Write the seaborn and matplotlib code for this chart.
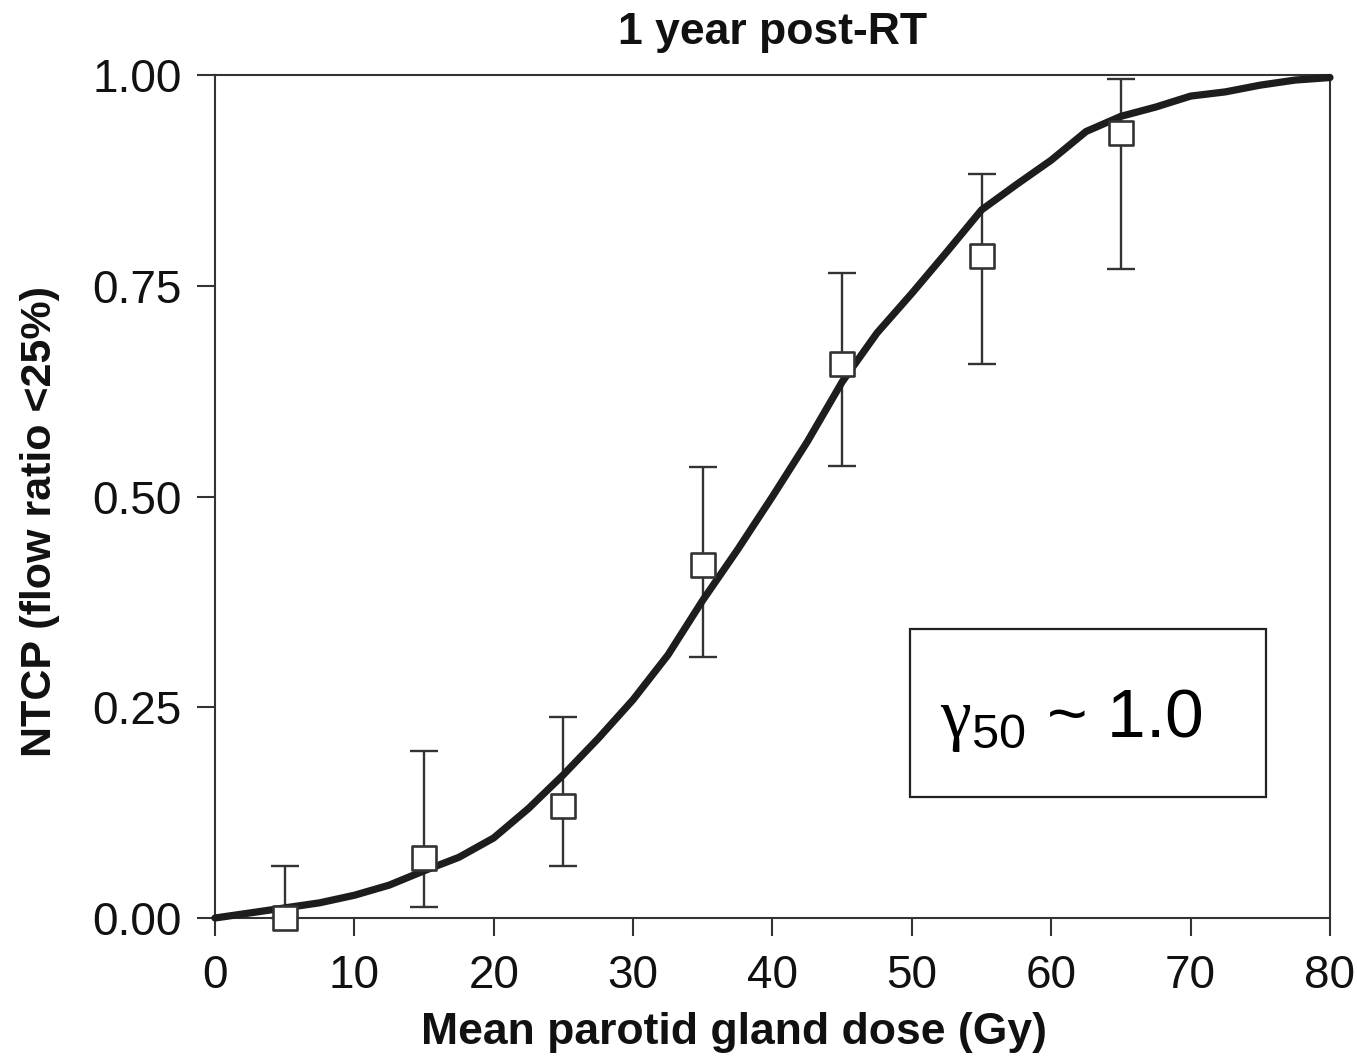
import matplotlib
import matplotlib.pyplot as plt
import pandas as pd
import seaborn as sns
from matplotlib.patches import Rectangle

matplotlib.use('Agg')

# Fitted NTCP curve
curve_dose = [0, 2.5, 5, 7.5, 10, 12.5, 15, 17.5, 20, 22.5, 25, 27.5, 30, 32.5, 35, 37.5, 40,
              42.5, 45, 47.5, 50, 52.5, 55, 57.5, 60, 62.5, 65, 67.5, 70, 72.5, 75, 77.5, 80]
curve_ntcp = [0.000, 0.006, 0.012, 0.018, 0.027, 0.039, 0.056, 0.072, 0.095, 0.130, 0.170,
              0.213, 0.259, 0.312, 0.377, 0.437, 0.500, 0.565, 0.636, 0.694, 0.741, 0.790,
              0.840, 0.870, 0.899, 0.933, 0.951, 0.962, 0.975, 0.980, 0.988, 0.994, 0.997]

# Observed complication rates with confidence intervals
obs_dose = [5, 15, 25, 35, 45, 55, 65]
obs_ntcp = [0.000, 0.071, 0.133, 0.419, 0.657, 0.785, 0.931]
obs_upper = [0.062, 0.198, 0.238, 0.535, 0.765, 0.883, 0.995]
obs_lower = [0.000, 0.013, 0.062, 0.310, 0.536, 0.657, 0.770]

x_ticks = [0, 10, 20, 30, 40, 50, 60, 70, 80]
y_ticks = [0.00, 0.25, 0.50, 0.75, 1.00]


def make_plot(output_file):
    sns.set_style('ticks')
    plt.rcParams['font.family'] = ['Liberation Sans', 'DejaVu Sans']
    plt.rcParams['mathtext.fontset'] = 'custom'
    plt.rcParams['mathtext.rm'] = 'Liberation Serif'
    plt.rcParams['mathtext.sf'] = 'Liberation Sans'

    curve = pd.DataFrame({'dose': curve_dose, 'ntcp': curve_ntcp})
    obs = pd.DataFrame({'dose': obs_dose, 'ntcp': obs_ntcp,
                        'upper': obs_upper, 'lower': obs_lower})

    fig = plt.figure(figsize=(13.57, 10.64), dpi=100)
    ax = fig.add_axes([0.1584, 0.1372, 0.8217, 0.7923])

    edge = '#333333'

    # Error bars
    ax.errorbar(obs['dose'], obs['ntcp'],
                yerr=[obs['ntcp'] - obs['lower'], obs['upper'] - obs['ntcp']],
                fmt='none', ecolor=edge, elinewidth=1.7, capsize=10, capthick=1.7,
                zorder=2, clip_on=False)

    # Fitted curve
    sns.lineplot(data=curve, x='dose', y='ntcp', ax=ax, color='#1f1c1d',
                 linewidth=5.2, zorder=3, clip_on=False)

    # Observed points
    sns.scatterplot(data=obs, x='dose', y='ntcp', ax=ax, marker='s', s=300,
                    facecolor='white', edgecolor=edge, linewidth=1.9,
                    zorder=4, clip_on=False)

    ax.set_xlim(0, 80)
    ax.set_ylim(0, 1)
    ax.set_xticks(x_ticks)
    ax.set_yticks(y_ticks)
    ax.set_yticklabels([f'{v:.2f}' for v in y_ticks])

    for side in ['left', 'bottom', 'top', 'right']:
        ax.spines[side].set_visible(True)
        ax.spines[side].set_color(edge)
        ax.spines[side].set_linewidth(1.5)

    ax.tick_params(axis='both', direction='out', length=13, width=1.5,
                   color=edge, labelsize=33, labelcolor='#111111')
    ax.tick_params(axis='y', pad=11)
    ax.tick_params(axis='x', pad=13)

    ax.set_xlabel('Mean parotid gland dose (Gy)', fontsize=32, fontweight='bold', color='#111111')
    ax.set_ylabel('NTCP (flow ratio <25%)', fontsize=31, fontweight='bold', color='#111111')
    ax.xaxis.set_label_coords(0.4655, -0.112)
    ax.yaxis.set_label_coords(-0.139, 0.47)
    ax.set_title('1 year post-RT', fontsize=32, fontweight='bold', color='#111111', pad=22)

    # Annotation box
    ax.add_patch(Rectangle((49.9, 0.1435), 25.5, 0.1995, fill=False,
                           edgecolor='#222222', linewidth=1.6, zorder=5))
    ax.text(52.0, 0.215, r'$\mathrm{\gamma}_{\mathsf{50}}$ ~ 1.0', fontsize=50,
            color='black', va='baseline', ha='left', zorder=6)

    fig.savefig(output_file, dpi=100)
    plt.close(fig)


if __name__ == '__main__':
    make_plot('out.png')
